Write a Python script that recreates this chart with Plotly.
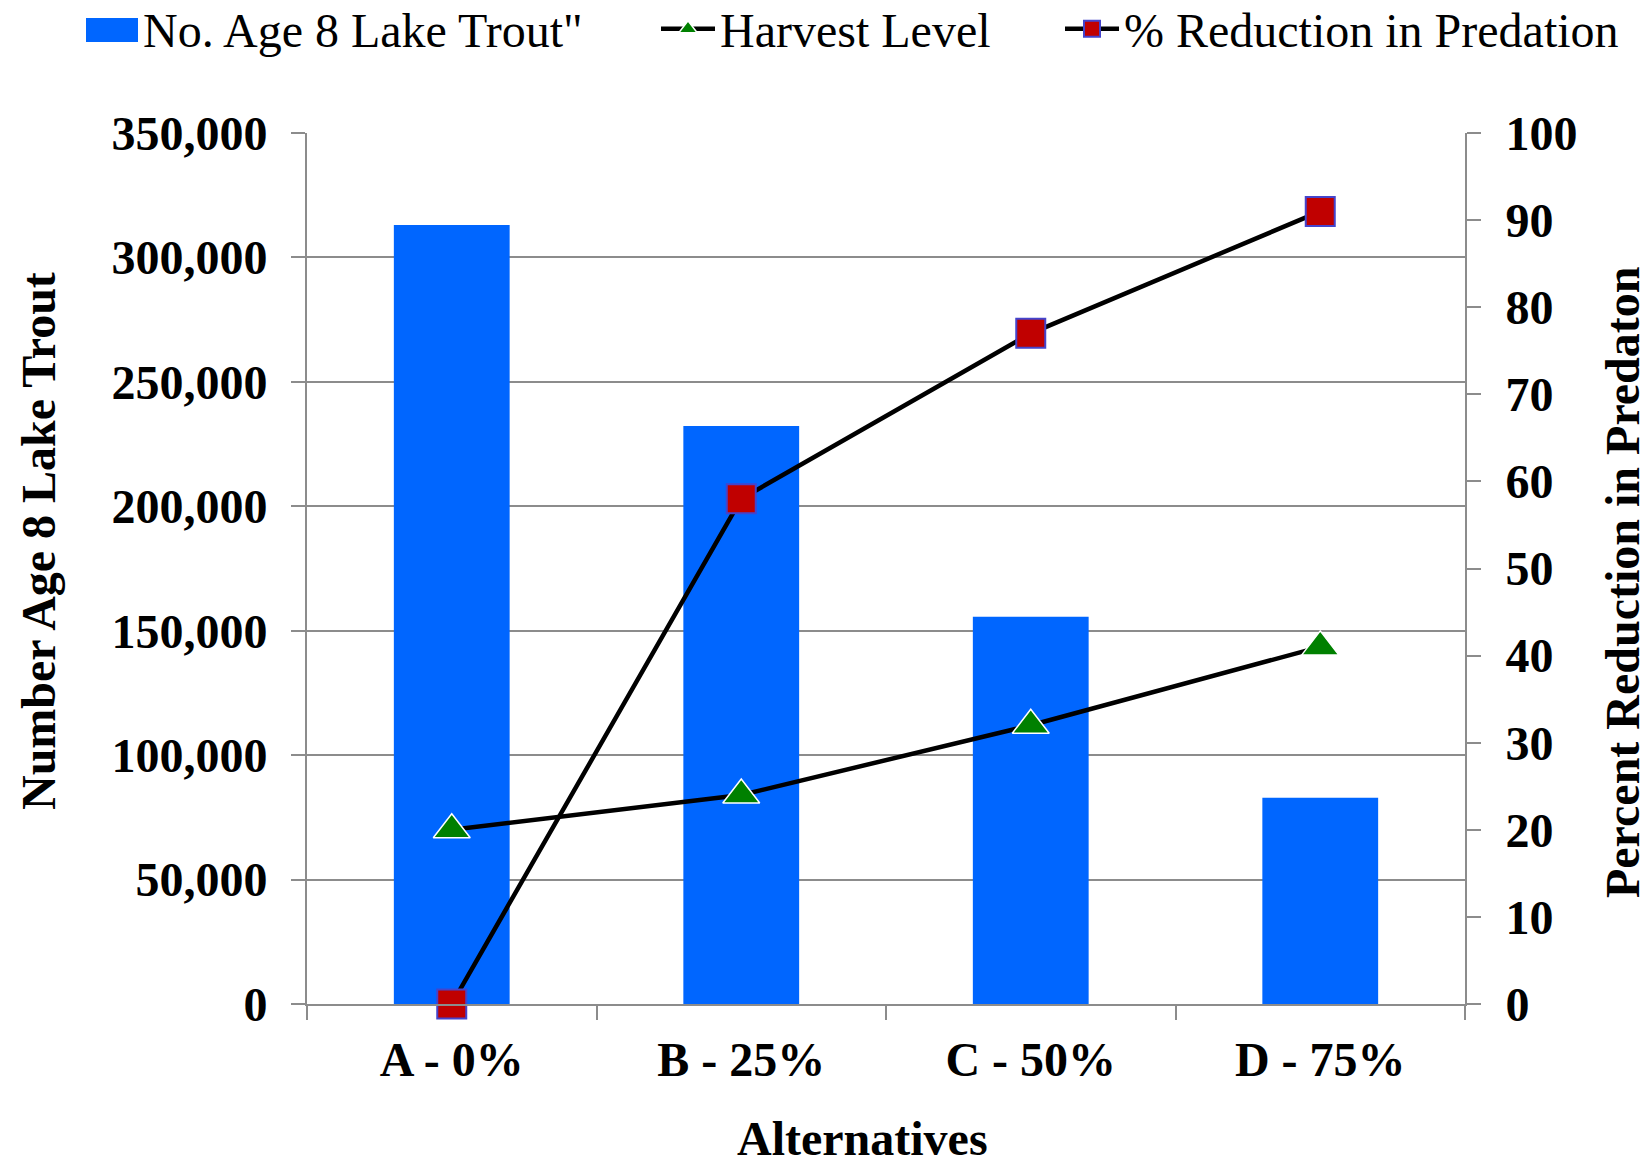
import plotly.graph_objects as go

categories = ["A - 0%", "B - 25%", "C - 50%", "D - 75%"]
lake_trout = [313000, 232300, 155600, 82900]
harvest_level = [20, 24, 32, 41]
pct_reduction = [0, 58, 77, 91]

FONT = "Liberation Serif, Times New Roman, serif"
GRID = "#8c8c8c"
BAR = "#0066FF"

# figure coordinates (the page body adds an 8 px offset)
W, H = 1642, 1155
L, R, T, B = 299, 185, 125, 159
PW, PH = W - L - R, H - T - B

def px(x):
    return (x - L) / PW

def py(y):
    return (H - B - y) / PH

fig = go.Figure()
fig.add_trace(go.Bar(
    x=categories, y=lake_trout, name='No. Age 8 Lake Trout"',
    marker=dict(color=BAR, line=dict(width=0)), yaxis="y",
    legendgroup="bar", showlegend=False))
# legend text entry for the bars; its wide swatch is drawn as a shape below
fig.add_trace(go.Scatter(
    x=[None], y=[None], name='No. Age 8 Lake Trout"', mode="lines",
    line=dict(color="rgba(0,0,0,0)", width=0), legendgroup="bar", legend="legend",
    hoverinfo="skip"))
fig.add_trace(go.Scatter(
    x=categories, y=harvest_level, name="Harvest Level", mode="lines+markers",
    line=dict(color="black", width=4.5),
    marker=dict(symbol="triangle-up", size=32, color="#008000",
                line=dict(color="white", width=1.5)),
    yaxis="y2", cliponaxis=False, legend="legend2"))
fig.add_trace(go.Scatter(
    x=categories, y=pct_reduction, name="% Reduction in Predation", mode="lines+markers",
    line=dict(color="black", width=4.5),
    marker=dict(symbol="square", size=29, color="#C00000",
                line=dict(color="#4444CC", width=2)),
    yaxis="y2", cliponaxis=False, legend="legend3"))

legend_font = dict(family=FONT, size=48, color="black")
yleg = 1 - 21 / H

def leg(xpix, iw):
    return dict(orientation="h", xref="container", yref="container",
                x=xpix / W, y=yleg, xanchor="left", yanchor="middle",
                font=legend_font, itemwidth=iw, bgcolor="rgba(0,0,0,0)",
                borderwidth=0)

tick_font = dict(family=FONT, size=48, weight="bold", color="black")
title_font = dict(family=FONT, size=48, weight="bold", color="black")

fig.update_layout(
    width=W, height=H,
    margin=dict(l=L, r=R, t=T, b=B, autoexpand=False),
    paper_bgcolor="white", plot_bgcolor="white",
    font=dict(family=FONT, size=48, color="black"),
    bargap=0.6,
    showlegend=True,
    legend=leg(73, 52),
    legend2=leg(648, 54),
    legend3=leg(1052, 54),
    shapes=[
        dict(type="rect", xref="paper", yref="paper",
             x0=px(78), x1=px(130), y0=py(34), y1=py(10),
             fillcolor=BAR, line=dict(width=0), layer="above"),
    ],
    xaxis=dict(
        type="category", tickson="boundaries", ticks="outside", ticklen=14,
        tickwidth=2, tickcolor=GRID, showline=True, linecolor=GRID, linewidth=2,
        showgrid=False, ticklabelstandoff=12, tickfont=tick_font,
    ),
    yaxis=dict(
        range=[0, 350000], dtick=50000, tickformat=",", ticks="outside", ticklen=14,
        tickwidth=2, tickcolor=GRID, showline=True, linecolor=GRID, linewidth=2,
        showgrid=True, gridcolor=GRID, gridwidth=2, zeroline=False,
        ticklabelstandoff=14, tickfont=tick_font,
    ),
    yaxis2=dict(
        range=[0, 100], dtick=10, overlaying="y", side="right", ticks="outside", ticklen=14,
        tickwidth=2, tickcolor=GRID, showline=True, linecolor=GRID, linewidth=2,
        showgrid=False, zeroline=False, ticklabelstandoff=15, tickfont=tick_font,
    ),
    annotations=[
        dict(text="Number Age 8 Lake Trout", xref="paper", yref="paper",
             x=px(30), y=py(533), textangle=-90, showarrow=False,
             xanchor="center", yanchor="middle", font=title_font),
        dict(text="Percent Reduction in Predaton", xref="paper", yref="paper",
             x=px(1614), y=py(574), textangle=-90, showarrow=False,
             xanchor="center", yanchor="middle", font=title_font),
        dict(text="Alternatives", xref="paper", yref="paper",
             x=px(854), y=py(1130), showarrow=False,
             xanchor="center", yanchor="middle", font=title_font),
    ],
)

fig.write_html("out.html")
